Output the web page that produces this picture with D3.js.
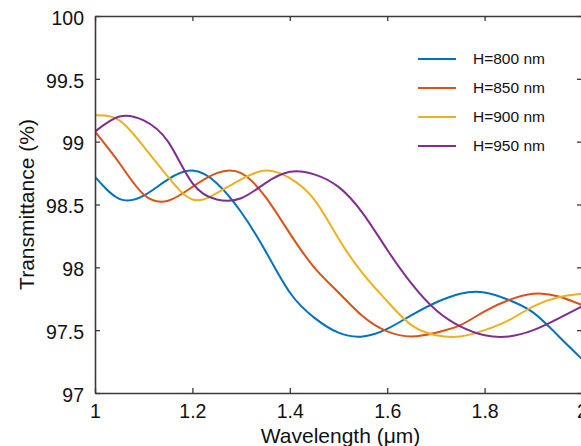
<!DOCTYPE html>
<html>
<head>
<meta charset="utf-8">
<script src="https://cdn.jsdelivr.net/npm/d3@7"></script>
<style>
  html, body { margin: 0; padding: 0; background: #fff; }
  svg { display: block; font-family: Arial, "Liberation Sans", Helvetica, sans-serif; }
</style>
</head>
<body>
<svg id="chart" width="581" height="446"></svg>
<script>
// Wavelength grid (µm)
const wavelengths = [1.00,1.05,1.10,1.15,1.20,1.25,1.30,1.35,1.40,1.45,1.50,1.55,1.60,1.65,1.70,1.75,1.80,1.85,1.90,1.95,2.00];
// Transmittance (%) per series
const h800 = [98.72,98.545,98.57,98.70,98.77,98.67,98.44,98.13,97.80,97.60,97.48,97.45,97.51,97.62,97.72,97.79,97.80,97.74,97.64,97.46,97.27];
const h850 = [99.08,98.83,98.58,98.53,98.64,98.75,98.75,98.56,98.27,98.00,97.80,97.61,97.49,97.45,97.48,97.54,97.65,97.74,97.79,97.77,97.70];
const h900 = [99.21,99.17,98.96,98.72,98.54,98.59,98.70,98.77,98.71,98.54,98.23,97.95,97.73,97.54,97.46,97.45,97.50,97.58,97.69,97.76,97.79];
const h950 = [99.08,99.20,99.17,99.00,98.67,98.54,98.55,98.67,98.76,98.74,98.64,98.43,98.14,97.87,97.66,97.53,97.46,97.45,97.50,97.59,97.69];
const seriesNames = ["H=800 nm","H=850 nm","H=900 nm","H=950 nm"];
const seriesValues = [h800, h850, h900, h950];
const colors = ["#0072BD","#D95319","#EDB120","#7E2F8E"];
const xTicks = [1,1.2,1.4,1.6,1.8,2];
const yTicks = [97,97.5,98,98.5,99,99.5,100];

(function(){
const svg = d3.select("#chart");
const mL = 95, mR = 582, mT = 16, mB = 393;
const x = d3.scaleLinear().domain([1,2]).range([mL,mR]);
const y = d3.scaleLinear().domain([97,100]).range([mB,mT]);
const axisColor = "#3a3a3a";
const tickFont = "19.5px", titleFont = "21px";

svg.append("defs").append("clipPath").attr("id","clip")
  .append("rect").attr("x",mL).attr("y",mT).attr("width",mR-mL).attr("height",mB-mT);

// Lines
const line = d3.line().x(d => x(d[0])).y(d => y(d[1])).curve(d3.curveNatural);
const g = svg.append("g").attr("clip-path","url(#clip)");
seriesValues.forEach((vals,i) => {
  g.append("path")
    .datum(wavelengths.map((w,j) => [w, vals[j]]))
    .attr("fill","none")
    .attr("stroke",colors[i])
    .attr("stroke-width",2)
    .attr("d",line);
});

function styleAxis(sel, showText){
  sel.select(".domain").attr("stroke",axisColor).attr("stroke-width",1.6);
  sel.selectAll(".tick line").attr("stroke",axisColor).attr("stroke-width",1.3);
  sel.selectAll(".tick text").attr("fill","#111").style("font-size",tickFont)
     .style("display", showText ? null : "none");
}
const fmt = d => String(d);

svg.append("g").attr("transform",`translate(0,${mB})`)
  .call(d3.axisBottom(x).tickValues(xTicks).tickFormat(fmt).tickSizeInner(-5).tickSizeOuter(0).tickPadding(11))
  .call(s => styleAxis(s,true));
svg.append("g").attr("transform",`translate(0,${mT})`)
  .call(d3.axisTop(x).tickValues(xTicks).tickFormat(fmt).tickSizeInner(-5).tickSizeOuter(0))
  .call(s => styleAxis(s,false));
svg.append("g").attr("transform",`translate(${mL},0)`)
  .call(d3.axisLeft(y).tickValues(yTicks).tickFormat(fmt).tickSizeInner(-5).tickSizeOuter(0).tickPadding(11))
  .call(s => { styleAxis(s,true); s.selectAll(".tick text").attr("dy","0.42em"); });
svg.append("g").attr("transform",`translate(${mR},0)`)
  .call(d3.axisRight(y).tickValues(yTicks).tickFormat(fmt).tickSizeInner(-5).tickSizeOuter(0))
  .call(s => styleAxis(s,false));

svg.append("text").attr("x",(mL+mR)/2 + 2).attr("y",443)
  .attr("text-anchor","middle").style("font-size",titleFont).attr("fill","#111")
  .text("Wavelength (μm)");
svg.append("text").attr("transform",`translate(34,${(mT+mB)/2}) rotate(-90)`)
  .attr("text-anchor","middle").style("font-size",titleFont).attr("fill","#111")
  .text("Transmittance (%)");

const legendY = [59,88,117,146];
seriesNames.forEach((name,i) => {
  svg.append("line").attr("x1",418).attr("x2",456).attr("y1",legendY[i]).attr("y2",legendY[i])
    .attr("stroke",colors[i]).attr("stroke-width",2);
  svg.append("text").attr("x",473).attr("y",legendY[i]).attr("dy","0.35em")
    .style("font-size","15.5px").attr("fill","#111").text(name);
});
})();
</script>
</body>
</html>
